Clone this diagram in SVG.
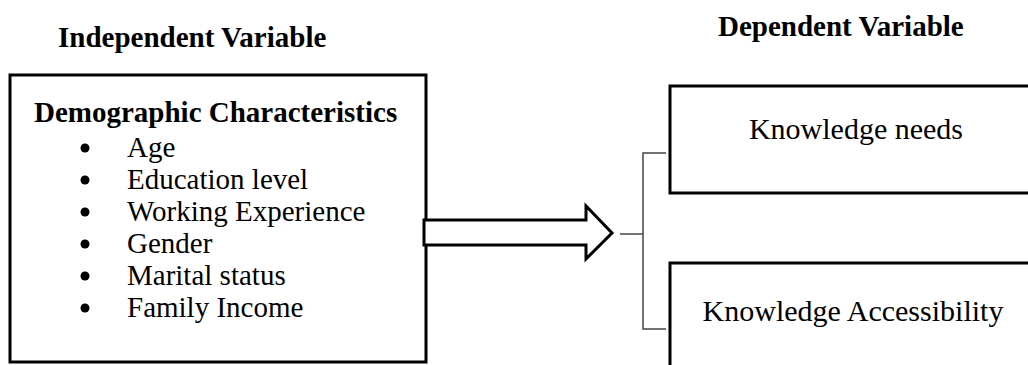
<svg xmlns="http://www.w3.org/2000/svg" width="1028" height="365" viewBox="0 0 1028 365">
<style>
.hdr{font-family:"Liberation Serif","Times New Roman",serif;font-weight:bold;font-size:29px;fill:#000}
.txt{font-family:"Liberation Serif","Times New Roman",serif;font-size:29px;fill:#000}
.box{fill:#fff;stroke:#000;stroke-width:3}
.br{fill:none;stroke:#444;stroke-width:1.5}
</style>
<rect width="1028" height="365" fill="#fff"/>
<text class="hdr" x="58" y="47">Independent Variable</text>
<text class="hdr" x="718" y="36">Dependent Variable</text>
<g id="demographic">
<rect class="box" x="10" y="75" width="416" height="287"/>
<text class="hdr" x="34" y="122">Demographic Characteristics</text>
<g fill="#000">
<circle cx="85" cy="148" r="4.5"/>
<circle cx="85" cy="180" r="4.5"/>
<circle cx="85" cy="212" r="4.5"/>
<circle cx="85" cy="244" r="4.5"/>
<circle cx="85" cy="276" r="4.5"/>
<circle cx="85" cy="308" r="4.5"/>
</g>
<text class="txt" x="127" y="157">Age</text>
<text class="txt" x="127" y="189">Education level</text>
<text class="txt" x="127" y="221">Working Experience</text>
<text class="txt" x="127" y="253">Gender</text>
<text class="txt" x="127" y="285">Marital status</text>
<text class="txt" x="127" y="317">Family Income</text>
</g>
<g id="knowledge-needs">
<rect class="box" x="670" y="86" width="370" height="107"/>
<text class="txt" x="856" y="139" text-anchor="middle" style="font-size:30px">Knowledge needs</text>
</g>
<g id="knowledge-accessibility">
<rect class="box" x="670" y="263" width="370" height="120"/>
<text class="txt" x="853" y="321" text-anchor="middle" style="font-size:30px">Knowledge Accessibility</text>
</g>
<g id="connectors">
<polygon points="424,220 586,220 586,206 612,233 586,259 586,245 424,245" fill="#fff" stroke="#000" stroke-width="3" stroke-linejoin="miter"/>
<line class="br" x1="620" y1="234" x2="643" y2="234"/>
<polyline class="br" points="666,153 643,153 643,329 666,329"/>
</g>
</svg>
